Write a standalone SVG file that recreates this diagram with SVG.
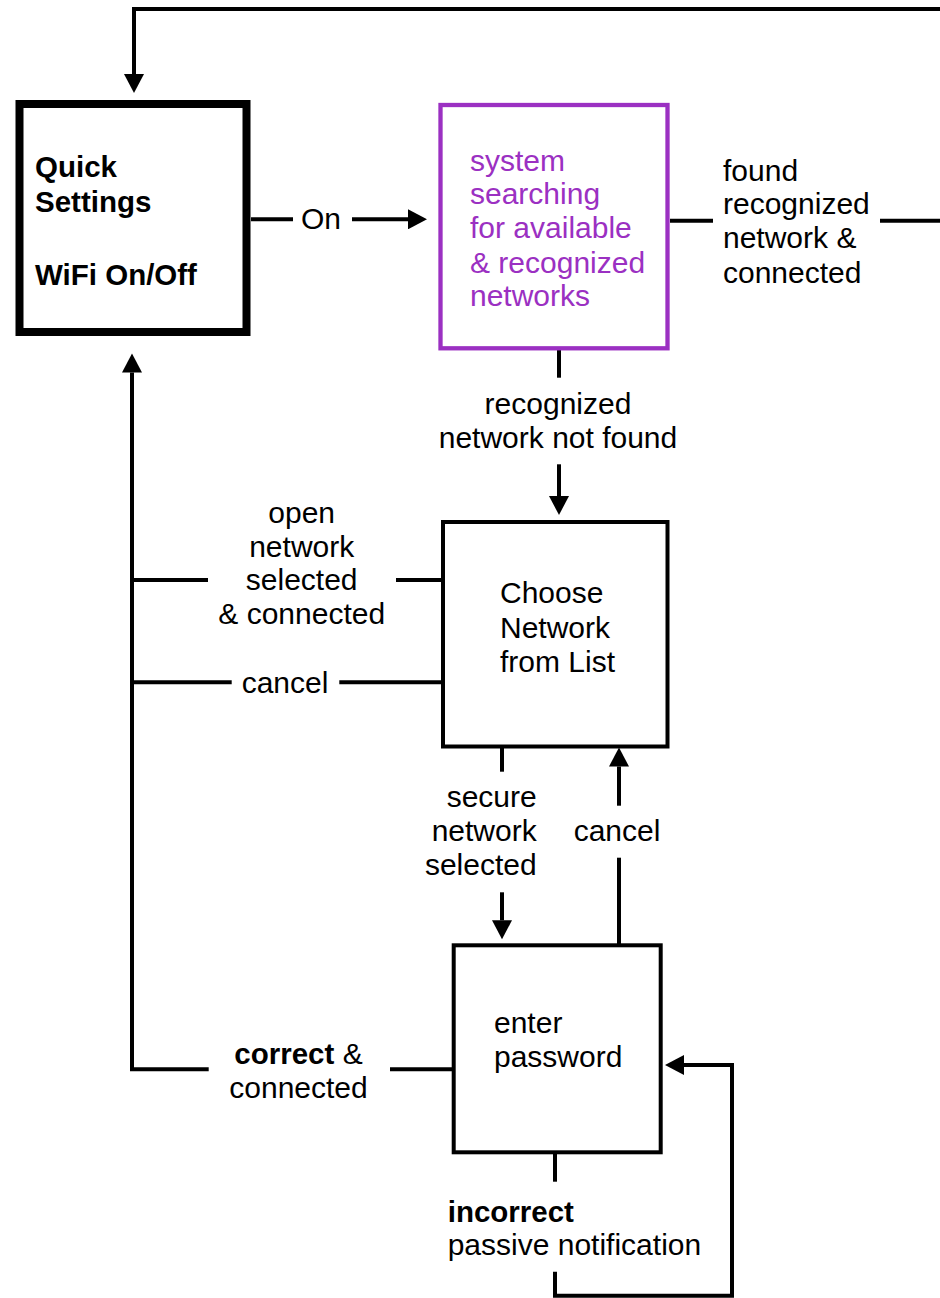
<svg xmlns="http://www.w3.org/2000/svg" width="940" height="1298" viewBox="0 0 940 1298">
<style>
text{font-family:"Liberation Sans",Arial,Helvetica,sans-serif;font-size:30px;fill:#000}
.b{font-weight:bold;font-size:29.5px}
.p{fill:#9B30C2}
.box{fill:#fff;stroke:#000;stroke-width:4}
.c{fill:none;stroke:#000;stroke-width:4}
.m{text-anchor:middle}
.e{text-anchor:end}
</style>
<defs>
<marker id="ah" markerUnits="userSpaceOnUse" markerWidth="20" markerHeight="20" viewBox="0 0 19 20" refX="0" refY="10" orient="auto">
<path d="M0,0 L19,10 L0,20 Z" fill="#000"/>
</marker>
</defs>
<rect width="940" height="1298" fill="#fff"/>
<g id="connectors">
<path class="c" d="M945,9 H134 V74" marker-end="url(#ah)"/>
<path class="c" d="M251,219.3 H293"/>
<path class="c" d="M352,219.3 H408" marker-end="url(#ah)"/>
<path class="c" d="M670,220.7 H713"/>
<path class="c" d="M880,220.7 H945"/>
<path class="c" d="M559,350 V377.7"/>
<path class="c" d="M559,464.3 V496" marker-end="url(#ah)"/>
<path class="c" d="M132,580 H208"/>
<path class="c" d="M396,580 H443"/>
<path class="c" d="M132,682.3 H231.7"/>
<path class="c" d="M339.3,682.3 H443"/>
<path class="c" d="M208.7,1069.3 H132 V372.5" marker-end="url(#ah)"/>
<path class="c" d="M390,1069.3 H453"/>
<path class="c" d="M502,748 V771.7"/>
<path class="c" d="M502,892.3 V920.3" marker-end="url(#ah)"/>
<path class="c" d="M619,944 V857.7"/>
<path class="c" d="M619,805.7 V766.5" marker-end="url(#ah)"/>
<path class="c" d="M555,1154 V1181.7"/>
<path class="c" d="M555,1271.7 V1295.7 H732 V1065 H684" marker-end="url(#ah)"/>
</g>
<g id="quick-settings">
<rect x="19.5" y="104" width="227" height="228" fill="#fff" stroke="#000" stroke-width="8"/>
<text class="b" x="35" y="176.5">Quick</text>
<text class="b" x="35" y="212.3">Settings</text>
<text class="b" x="35" y="285">WiFi On/Off</text>
</g>
<g id="system-searching">
<rect x="440.5" y="105" width="227" height="243.3" fill="#fff" stroke="#9B30C2" stroke-width="4.3"/>
<text class="p" x="470" y="170.7">system</text>
<text class="p" x="470" y="204.3">searching</text>
<text class="p" x="470" y="238.3">for available</text>
<text class="p" x="470" y="272.7">&amp; recognized</text>
<text class="p" x="470" y="306">networks</text>
</g>
<g id="choose-network">
<rect class="box" x="443" y="522" width="224.5" height="224.5"/>
<text x="500" y="603.3">Choose</text>
<text x="500" y="637.7">Network</text>
<text x="500" y="671.7">from List</text>
</g>
<g id="enter-password">
<rect class="box" x="453.7" y="945.3" width="207" height="207"/>
<text x="494" y="1033.3">enter</text>
<text x="494" y="1066.7">password</text>
</g>
<g id="labels">
<text class="m" x="321" y="229.3">On</text>
<text x="723" y="181">found</text>
<text x="723" y="214.3">recognized</text>
<text x="723" y="248.3">network &amp;</text>
<text x="723" y="282.7">connected</text>
<text class="m" x="558" y="414">recognized</text>
<text class="m" x="558" y="448">network not found</text>
<text class="m" x="301.7" y="522.7">open</text>
<text class="m" x="301.7" y="556.7">network</text>
<text class="m" x="301.7" y="590">selected</text>
<text class="m" x="301.7" y="624.3">&amp; connected</text>
<text x="241.7" y="692.7">cancel</text>
<text class="e" x="536.7" y="807.3">secure</text>
<text class="e" x="536.7" y="841">network</text>
<text class="e" x="536.7" y="875">selected</text>
<text class="m" x="617" y="841">cancel</text>
<text class="m" x="298.5" y="1064.3"><tspan class="b">correct</tspan> &amp;</text>
<text class="m" x="298.5" y="1097.7">connected</text>
<text class="b" x="447.7" y="1221.7">incorrect</text>
<text x="447.7" y="1255">passive notification</text>
</g>
</svg>
